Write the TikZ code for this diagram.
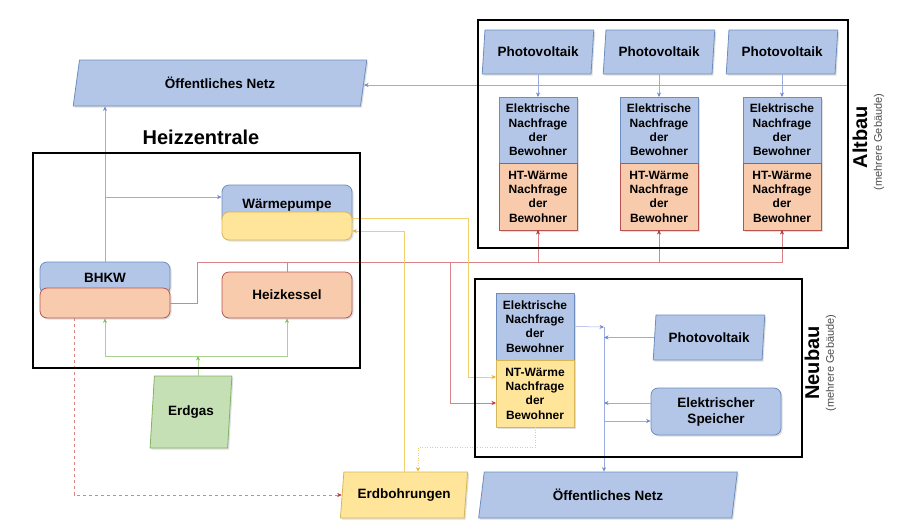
\documentclass[tikz,border=0pt]{standalone}
\usepackage{fontspec}
\setmainfont{Liberation Sans}
\usetikzlibrary{calc, positioning, arrows.meta, shapes.geometric, shadows}

\definecolor{blueF}{HTML}{B3C6E7}
\definecolor{blueD}{HTML}{6C8EBF}
\definecolor{blueL}{HTML}{7088D0}
\definecolor{redF}{HTML}{F8CBAD}
\definecolor{redD}{HTML}{B85450}
\definecolor{redL}{HTML}{C0303A}
\definecolor{yelF}{HTML}{FFE599}
\definecolor{yelD}{HTML}{D6B656}
\definecolor{yelL}{HTML}{E6B422}
\definecolor{grnF}{HTML}{C5E0B4}
\definecolor{grnD}{HTML}{82B366}
\definecolor{grnL}{HTML}{80C060}

\begin{document}
\begin{tikzpicture}[x=1pt, y=-1pt, every node/.style={font=\bfseries\fontsize{13.5}{16}\selectfont}]
  \tikzset{
    shade/.style={drop shadow={opacity=0.25, shadow xshift=1.5pt, shadow yshift=-1.5pt}},
    box/.style={draw, rounded corners=7pt, line width=0.8pt, minimum width=130pt, inner sep=0pt, align=center, shade},
    para/.style={trapezium, trapezium left angle=78, trapezium right angle=102, trapezium stretches=true, draw, line width=0.8pt, inner sep=0pt, shade},
    demand/.style={draw, line width=0.8pt, minimum width=78pt, minimum height=67pt, inner sep=0pt, outer sep=0pt, align=center, shade, font=\bfseries\fontsize{12}{14.3}\selectfont},
    frame/.style={draw, line width=2.3pt},
    bluebox/.style={fill=blueF, draw=blueD},
    redbox/.style={fill=redF, draw=redD},
    yelbox/.style={fill=yelF, draw=yelD},
    blueline/.style={draw=blueL!70!white, line width=0.5pt, >={Stealth[length=4.5pt,width=4pt,color=blueL]}},
    redline/.style={draw=redL!60!white, line width=0.5pt, >={Stealth[length=4.5pt,width=4pt,color=redL]}},
    yelline/.style={draw=yelL!65!white, line width=0.5pt, >={Stealth[length=4.5pt,width=4pt,color=yelL]}},
    grnline/.style={draw=grnL!70!white, line width=0.5pt, >={Stealth[length=4.5pt,width=4pt,color=grnL]}},
    title/.style={font=\bfseries\fontsize{20}{24}\selectfont},
    subtitle/.style={font=\fontsize{11}{13}\selectfont, text=black!70}
  }
  \useasboundingbox (0,0) rectangle (907,531);

  % Heizzentrale
  \node[title] (hzLabel) at (201,137) {Heizzentrale};
  \node[para, bluebox, minimum width=294pt, minimum height=46pt] (netzA) at (220,83) {Öffentliches Netz};
  \node[box, bluebox, minimum height=40pt] (wp) at (287,205) {Wärmepumpe};
  \node[box, yelbox, minimum height=28pt] (wpT) at (287,226) {};
  \node[box, bluebox, minimum height=32pt] (bhkw) at (105,278) {BHKW};
  \node[box, redbox, minimum height=30pt] (bhkwB) at (105,303) {};
  \node[box, redbox, minimum height=46pt] (hk) at (287,295) {Heizkessel};
  \node[para, fill=grnF, draw=grnD, minimum width=82pt, minimum height=72pt] (erdgas) at (191,412) {Erdgas};
  \node[para, yelbox, minimum width=128pt, minimum height=46pt] (erdb) at (404,495) {Erdbohrungen};

  % Altbau
  \foreach \i/\x in {1/538, 2/659, 3/782} {
    \node[para, bluebox, minimum width=112pt, minimum height=44pt] (pv\i) at (\x,52) {Photovoltaik};
    \node[demand, bluebox, minimum height=66pt] (el\i) at (\x,130) {Elektrische\\Nachfrage\\der\\Bewohner};
    \node[demand, redbox, below=0pt of el\i] (ht\i) {HT-Wärme\\Nachfrage\\der\\Bewohner};
    \draw[blueline, ->] (pv\i) -- (el\i);
  }
  \node[title, rotate=90] (altLabel) at (860,137) {Altbau};
  \node[subtitle, rotate=90] (altSub) at (879,142) {(mehrere Gebäude)};

  % Neubau
  \node[demand, bluebox] (elN) at (535,326.5) {Elektrische\\Nachfrage\\der\\Bewohner};
  \node[demand, yelbox, below=0pt of elN] (ntN) {NT-Wärme\\Nachfrage\\der\\Bewohner};
  \node[para, bluebox, minimum width=112pt, minimum height=45pt] (pvN) at (709,337.5) {Photovoltaik};
  \node[box, bluebox, minimum height=47pt] (spe) at (716,411.5) {Elektrischer\\Speicher};
  \node[para, bluebox, minimum width=259pt, minimum height=46pt] (netzB) at (608,495) {Öffentliches Netz};
  \node[title, rotate=90] (neuLabel) at (812,363) {Neubau};
  \node[subtitle, rotate=90] (neuSub) at (831,363) {(mehrere Gebäude)};

  \coordinate (wj) at (105,197);
  \coordinate (altR) at (847,85);
  \coordinate (rb) at (197,262);
  \coordinate (rn) at (450,262);
  \coordinate (yk) at (468,377);
  \coordinate (yd) at (418,447);
  \coordinate (gj) at (198,356);
  \coordinate (nb) at (604,327);

  % Strom
  \draw[blueline, ->] (bhkw.north) -- (bhkw.north |- netzA.south);
  \draw[blueline, ->] (wj) -- (wj -| wp.west);
  \draw[blueline, ->] (altR) -- (altR -| netzA.east);
  \draw[blueline, ->] (elN.east) -- (nb);
  \draw[blueline, ->] (nb) -- (nb |- netzB.north);
  \draw[blueline, ->] (pvN.west) -- (pvN.west -| nb);
  \draw[blueline, ->] ([yshift=8.5pt]spe.west) -- ([yshift=8.5pt]spe.west -| nb);
  \draw[blueline, ->] ([yshift=-9.5pt]spe.west -| nb) -- ([yshift=-9.5pt]spe.west);

  % Waerme
  \draw[redline, ->] (bhkwB.east) -| (rb) -| (ht3.south);
  \draw[redline, ->] (ht1.south |- rb) -- (ht1.south);
  \draw[redline, ->] (ht2.south |- rb) -- (ht2.south);
  \draw[redline] (hk.north) -- (hk.north |- rb);
  \draw[redline, ->] (rn) |- ([yshift=-9.5pt]ntN.west);
  \draw[redline, dashed, ->] ([xshift=-31pt]bhkwB.south) |- (erdb.west);
  \draw[yelline, ->] ([yshift=8pt]wpT.east) -| (yk) -- (yk -| ntN.west);
  \draw[yelline, ->] (erdb.north) |- ([yshift=-5pt]wpT.east);
  \draw[yelline, dotted, ->] (ntN.south) |- (yd) -- (yd |- erdb.north);

  % Gas
  \draw[grnline, ->] (gj |- erdgas.north) -- (gj);
  \draw[grnline, ->] (gj) -| (bhkwB.south);
  \draw[grnline, ->] (gj) -| (hk.south);

  \draw[frame] (33,153) rectangle (360,368);
  \draw[frame] (478,20) rectangle (848,248);
  \draw[frame] (475,279) rectangle (802,457);
\end{tikzpicture}
\end{document}
